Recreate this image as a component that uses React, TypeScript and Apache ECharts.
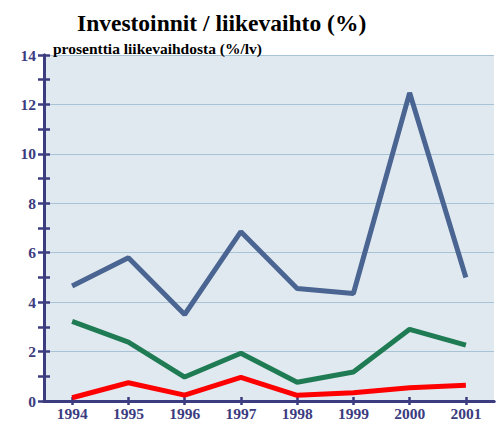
import React, { useEffect, useRef } from "react";
import * as echarts from "echarts";

const categories = ["1994", "1995", "1996", "1997", "1998", "1999", "2000", "2001"];
const blueSeries = [4.65, 5.8, 3.5, 6.85, 4.55, 4.35, 12.47, 5.0];
const greenSeries = [3.22, 2.38, 0.97, 1.93, 0.76, 1.17, 2.9, 2.26];
const redSeries = [0.13, 0.74, 0.24, 0.96, 0.23, 0.33, 0.54, 0.64];

const AXIS = "#3c3c80";
const FONT = "Liberation Serif";

export default function App() {
  const ref = useRef<HTMLDivElement>(null);
  useEffect(() => {
    if (!ref.current) return;
    const chart = echarts.init(ref.current, null, { renderer: "svg" });
    const yBase = {
      type: "value" as const,
      min: 0,
      max: 14,
      interval: 2,
      position: "left" as const,
      axisLine: { show: true, lineStyle: { color: AXIS, width: 3 } },
      minorTick: { show: true, splitNumber: 2, length: 6, lineStyle: { color: AXIS, width: 2.5 } },
    };
    const xBase = {
      type: "category" as const,
      data: categories,
      boundaryGap: true,
      position: "bottom" as const,
      axisLine: { show: true, lineStyle: { color: AXIS, width: 3 } },
    };
    chart.setOption({
      animation: false,
      textStyle: { fontFamily: FONT },
      title: [
        {
          text: "Investoinnit / liikevaihto (%)",
          left: 72,
          top: 6,
          textStyle: { fontFamily: FONT, fontSize: 23.5, fontWeight: "bold", color: "#000" },
        },
        {
          text: "prosenttia liikevaihdosta (%/lv)",
          left: 48,
          top: 35,
          textStyle: { fontFamily: FONT, fontSize: 15.5, fontWeight: "bold", color: "#000" },
        },
      ],
      grid: {
        left: 44,
        right: 2,
        top: 55,
        bottom: 20,
        show: true,
        backgroundColor: "#e1e9f0",
        borderWidth: 0,
      },
      xAxis: [
        {
          ...xBase,
          axisTick: { show: true, alignWithLabel: true, inside: false, length: 4, lineStyle: { color: AXIS, width: 2.5 } },
          axisLabel: { color: AXIS, fontFamily: FONT, fontSize: 15.5, fontWeight: "bold", margin: 4 },
        },
        {
          ...xBase,
          axisTick: { show: true, alignWithLabel: true, inside: true, length: 4, lineStyle: { color: AXIS, width: 2.5 } },
          axisLabel: { show: false },
        },
      ],
      yAxis: [
        {
          ...yBase,
          axisTick: { show: true, inside: false, length: 6, lineStyle: { color: AXIS, width: 2.5 } },
          axisLabel: { color: AXIS, fontFamily: FONT, fontSize: 15.5, fontWeight: "bold", margin: 8 },
          splitLine: { show: true, lineStyle: { color: "#a8c3d6", width: 1.2 } },
        },
        {
          ...yBase,
          axisTick: { show: true, inside: true, length: 6, lineStyle: { color: AXIS, width: 2.5 } },
          minorTick: { ...yBase.minorTick },
          axisLabel: { show: false },
          splitLine: { show: false },
        },
      ],
      series: [
        {
          type: "line",
          data: blueSeries,
          symbol: "none",
          lineStyle: { color: "#4a6591", width: 5 },
          z: 3,
        },
        {
          type: "line",
          data: greenSeries,
          symbol: "none",
          lineStyle: { color: "#1f7b53", width: 5 },
          z: 3,
        },
        {
          type: "line",
          data: redSeries,
          symbol: "none",
          lineStyle: { color: "#ff0000", width: 5 },
          z: 4,
        },
      ],
    });
    return () => chart.dispose();
  }, []);
  return (
    <div
      ref={ref}
      style={{ position: "fixed", left: 0, top: 0, width: 496, height: 421, background: "#fff" }}
    />
  );
}
